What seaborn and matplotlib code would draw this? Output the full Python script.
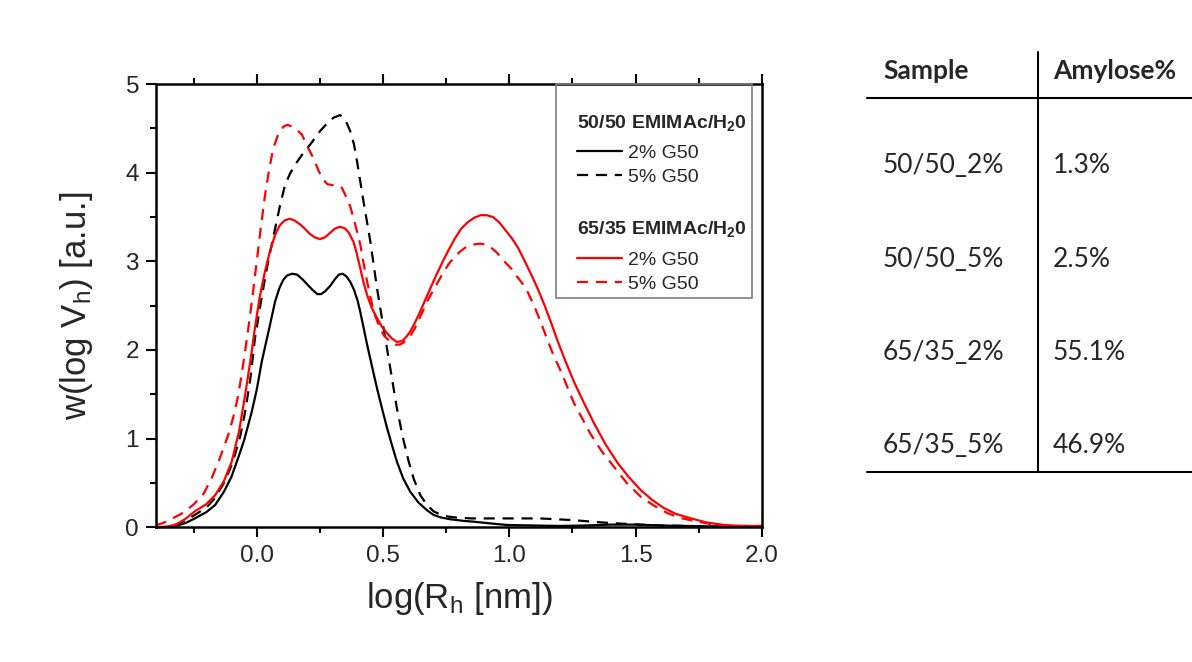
import matplotlib
matplotlib.use("Agg")
import matplotlib.pyplot as plt
import seaborn as sns
import pandas as pd
from matplotlib.lines import Line2D
from matplotlib.patches import Rectangle

# ---------------- data ----------------
# 50/50 EMIMAc/H2O, 2% G50 (black solid)
bs_x = [-0.40, -0.36, -0.32, -0.28, -0.245, -0.20, -0.165, -0.13, -0.10, -0.075, -0.05, -0.02, 0.0, 0.02,
        0.05, 0.073, 0.09, 0.105, 0.12, 0.14, 0.16, 0.18, 0.20, 0.22, 0.24, 0.255, 0.27, 0.29, 0.31, 0.325,
        0.34, 0.355, 0.37, 0.385, 0.40, 0.41, 0.437, 0.456, 0.476, 0.496, 0.516, 0.535, 0.555, 0.58, 0.608,
        0.64, 0.675, 0.70, 0.73, 0.767, 0.82, 0.86, 0.92, 0.99, 1.10, 1.20, 1.30, 1.40, 1.50, 1.60, 1.70,
        1.80, 1.90, 2.00]
bs_y = [0.0, 0.0, 0.015, 0.05, 0.10, 0.17, 0.25, 0.40, 0.57, 0.77, 0.98, 1.30, 1.55, 1.87,
        2.25, 2.55, 2.70, 2.79, 2.84, 2.86, 2.85, 2.80, 2.74, 2.68, 2.63, 2.63, 2.66, 2.72, 2.80, 2.85,
        2.86, 2.83, 2.77, 2.68, 2.55, 2.43, 2.06, 1.82, 1.57, 1.34, 1.12, 0.93, 0.74, 0.55, 0.40,
        0.28, 0.19, 0.14, 0.11, 0.09, 0.072, 0.063, 0.045, 0.026, 0.02, 0.015, 0.02, 0.03, 0.03, 0.02, 0.015,
        0.01, 0.01, 0.01]

# 50/50 EMIMAc/H2O, 5% G50 (black dashed)
bd_x = [-0.40, -0.36, -0.32, -0.28, -0.245, -0.20, -0.165, -0.13, -0.105, -0.086, -0.065, -0.046, -0.025,
        -0.007, 0.02, 0.04, 0.058, 0.073, 0.093, 0.112, 0.132, 0.152, 0.179, 0.215, 0.251, 0.28, 0.304,
        0.33, 0.35, 0.37, 0.385, 0.397, 0.41, 0.423, 0.45, 0.476, 0.502, 0.529, 0.555, 0.582, 0.60, 0.621,
        0.648, 0.675, 0.70, 0.73, 0.76, 0.79, 0.85, 0.99, 1.12, 1.19, 1.256, 1.32, 1.39, 1.45, 1.52, 1.60,
        1.70, 1.80, 1.90, 2.00]
bd_y = [0.0, 0.005, 0.03, 0.08, 0.14, 0.22, 0.33, 0.50, 0.66, 0.82, 1.03, 1.30, 1.68,
        2.13, 2.60, 2.92, 3.17, 3.37, 3.64, 3.86, 3.99, 4.09, 4.20, 4.33, 4.47, 4.56, 4.62,
        4.65, 4.60, 4.47, 4.32, 4.13, 3.90, 3.67, 3.22, 2.70, 2.25, 1.79, 1.34, 0.97, 0.76, 0.55,
        0.36, 0.25, 0.18, 0.14, 0.12, 0.11, 0.10, 0.10, 0.10, 0.09, 0.08, 0.065, 0.05, 0.04, 0.03, 0.02,
        0.015, 0.01, 0.01, 0.01]

# 65/35 EMIMAc/H2O, 2% G50 (red solid)
rs_x = [-0.40, -0.36, -0.32, -0.28, -0.245, -0.20, -0.165, -0.13, -0.099, -0.07, -0.046, -0.025, -0.007,
        0.012, 0.033, 0.053, 0.073, 0.09, 0.11, 0.13, 0.15, 0.17, 0.19, 0.21, 0.23, 0.25, 0.27, 0.29, 0.31,
        0.33, 0.35, 0.365, 0.383, 0.395, 0.41, 0.423, 0.437, 0.456, 0.476, 0.496, 0.516, 0.535, 0.555,
        0.575, 0.59, 0.608, 0.625, 0.645, 0.665, 0.688, 0.71, 0.735, 0.76, 0.785, 0.81, 0.835, 0.86,
        0.886, 0.91, 0.935, 0.96, 0.985, 1.01, 1.035, 1.058, 1.08, 1.10, 1.12, 1.14, 1.165, 1.19, 1.22,
        1.256, 1.296, 1.336, 1.38, 1.43, 1.475, 1.52, 1.565, 1.61, 1.66, 1.72, 1.78, 1.85, 1.92, 2.00]
rs_y = [0.0, 0.005, 0.03, 0.10, 0.18, 0.26, 0.36, 0.52, 0.74, 1.08, 1.49, 1.88, 2.25,
        2.60, 2.89, 3.12, 3.30, 3.40, 3.46, 3.48, 3.46, 3.42, 3.37, 3.31, 3.27, 3.25, 3.27, 3.32, 3.37,
        3.39, 3.37, 3.32, 3.22, 3.10, 2.92, 2.76, 2.62, 2.47, 2.36, 2.26, 2.19, 2.13, 2.09,
        2.10, 2.14, 2.21, 2.30, 2.42, 2.55, 2.70, 2.84, 2.99, 3.13, 3.26, 3.37, 3.44, 3.49,
        3.52, 3.52, 3.50, 3.44, 3.35, 3.26, 3.15, 3.02, 2.89, 2.77, 2.64, 2.50, 2.31, 2.11, 1.89,
        1.64, 1.40, 1.17, 0.94, 0.72, 0.56, 0.42, 0.31, 0.22, 0.15, 0.10, 0.055, 0.026, 0.015, 0.015]

# 65/35 EMIMAc/H2O, 5% G50 (red dashed)
rd_x = [-0.40, -0.37, -0.34, -0.30, -0.27, -0.245, -0.21, -0.179, -0.146, -0.113, -0.093, -0.073, -0.053,
        -0.033, -0.016, 0.0, 0.017, 0.033, 0.05, 0.066, 0.085, 0.106, 0.122, 0.139, 0.16, 0.179, 0.20,
        0.225, 0.245, 0.264, 0.28, 0.30, 0.317, 0.337, 0.357, 0.37, 0.383, 0.396, 0.41, 0.423, 0.437,
        0.45, 0.463, 0.482, 0.502, 0.525, 0.549, 0.565, 0.58, 0.595, 0.608, 0.625, 0.64, 0.658, 0.675,
        0.70, 0.72, 0.74, 0.76, 0.78, 0.805, 0.833, 0.86, 0.885, 0.905, 0.93, 0.95, 0.965, 0.99, 1.01,
        1.03, 1.065, 1.098, 1.125, 1.15, 1.175, 1.204, 1.23, 1.256, 1.29, 1.32, 1.365, 1.415, 1.465,
        1.52, 1.575, 1.627, 1.685, 1.746, 1.80, 1.865, 1.93, 2.00]
rd_y = [0.02, 0.05, 0.09, 0.15, 0.21, 0.27, 0.38, 0.55, 0.78, 1.04, 1.24, 1.49, 1.85,
        2.25, 2.62, 3.00, 3.40, 3.75, 4.05, 4.28, 4.43, 4.52, 4.54, 4.52, 4.48, 4.43, 4.30,
        4.16, 4.02, 3.92, 3.87, 3.86, 3.86, 3.83, 3.71, 3.62, 3.49, 3.35, 3.19, 2.98, 2.77,
        2.60, 2.43, 2.29, 2.17, 2.10, 2.06, 2.06, 2.08, 2.12, 2.16, 2.24, 2.33, 2.44, 2.55,
        2.68, 2.78, 2.88, 2.97, 3.04, 3.11, 3.17, 3.19, 3.20, 3.19, 3.15, 3.10, 3.05, 2.97, 2.91,
        2.83, 2.70, 2.50, 2.31, 2.12, 1.94, 1.76, 1.58, 1.40, 1.22, 1.06, 0.86, 0.68, 0.50,
        0.345, 0.24, 0.158, 0.10, 0.063, 0.035, 0.015, 0.015, 0.015]

x_ticks = [0.0, 0.5, 1.0, 1.5, 2.0]
x_ticklabels = ["0.0", "0.5", "1.0", "1.5", "2.0"]
x_minor = [-0.25, 0.25, 0.75, 1.25, 1.75]
y_ticks = [0, 1, 2, 3, 4, 5]
y_minor = [0.5, 1.5, 2.5, 3.5, 4.5]

group_titles = ["50/50 EMIMAc/H$_2$0", "65/35 EMIMAc/H$_2$0"]
entry_labels = ["2% G50", "5% G50"]

samples = ["50/50_2%", "50/50_5%", "65/35_2%", "65/35_5%"]
amylose = [1.3, 2.5, 55.1, 46.9]
table_headers = ["Sample", "Amylose%"]

# ---------------- style ----------------
sns.set_theme(style="ticks")
plt.rcParams["font.family"] = ["Liberation Sans", "DejaVu Sans"]
plt.rcParams["mathtext.default"] = "regular"
plt.rcParams["axes.linewidth"] = 1.8

RED = "#ff0000"
BLACK = "#000000"
DASH = (0, (5, 3.5))
LW = 1.6

fig = plt.figure(figsize=(11.92, 6.62), dpi=100)
fig.patch.set_facecolor("white")
ax = fig.add_axes([0.1306, 0.2035, 0.5086, 0.6696])
ax.set_facecolor("white")

series = [
    (bs_x, bs_y, BLACK, "-"),
    (bd_x, bd_y, BLACK, DASH),
    (rs_x, rs_y, RED, "-"),
    (rd_x, rd_y, RED, DASH),
]
for xs, ys, col, ls in series:
    df = pd.DataFrame({"x": xs, "y": ys})
    sns.lineplot(data=df, x="x", y="y", ax=ax, color=col, linewidth=LW,
                 sort=False, estimator=None, legend=False)
    ln = ax.lines[-1]
    ln.set_linestyle(ls)
    ln.set_solid_joinstyle("round")
    ln.set_dash_joinstyle("round")

ax.set_xlim(-0.4, 2.0)
ax.set_ylim(0, 5)
ax.set_xticks(x_ticks)
ax.set_xticklabels(x_ticklabels)
ax.set_xticks(x_minor, minor=True)
ax.set_yticks(y_ticks)
ax.set_yticks(y_minor, minor=True)
ax.tick_params(which="both", direction="out", top=True, right=False, labeltop=False,
               width=1.5, color="black")
ax.tick_params(which="major", length=7, labelsize=17.5)
ax.tick_params(which="minor", length=4)
ax.tick_params(axis="x", which="major", pad=6)
ax.tick_params(axis="y", which="major", pad=5)
for s in ax.spines.values():
    s.set_visible(True)
    s.set_color("black")
    s.set_linewidth(1.8)

ax.set_xlabel("log(R$_h$ [nm])", fontsize=25)
ax.set_ylabel("w(log V$_h$) [a.u.]", fontsize=25)
ax.xaxis.set_label_coords(0.5, -0.118)
ax.yaxis.set_label_coords(-0.10, 0.5)

# ---------------- legend ----------------
leg_kw = dict(loc="upper left", frameon=False, fontsize=14,
              title_fontproperties={"weight": "bold", "size": 14},
              alignment="left", borderpad=0, borderaxespad=0,
              handlelength=2.3, handletextpad=0.3, labelspacing=0.33)
h_black = [Line2D([], [], color=BLACK, lw=LW, ls="-"), Line2D([], [], color=BLACK, lw=LW, ls=DASH)]
h_red = [Line2D([], [], color=RED, lw=LW, ls="-"), Line2D([], [], color=RED, lw=LW, ls=DASH)]
leg1 = ax.legend(h_black, entry_labels, title=group_titles[0], bbox_to_anchor=(0.695, 0.935), **leg_kw)
leg1._legend_box.sep = 8.5
ax.add_artist(leg1)
leg2 = ax.legend(h_red, entry_labels, title=group_titles[1], bbox_to_anchor=(0.695, 0.695), **leg_kw)
leg2._legend_box.sep = 8.5
ax.add_patch(Rectangle((0.661, 0.517), 0.322, 0.483, transform=ax.transAxes, fill=False,
                       edgecolor="#7f7f7f", linewidth=1.2, clip_on=False, zorder=5))

# ---------------- table ----------------
W, H = 1192.0, 662.0
def fx(px):
    return px / W
def fy(py):
    return 1 - py / H

col_x = [883, 1053]
for cx, txt in zip(col_x, table_headers):
    fig.text(fx(cx), fy(79.3), txt, fontsize=19, fontweight="bold", family=["Lato", "DejaVu Sans"],
             va="baseline", ha="left")
row_base = [173.3, 266.7, 360.0, 453.3]
for yb, s, a in zip(row_base, samples, amylose):
    fig.text(fx(col_x[0]), fy(yb), s, fontsize=19, family=["Lato", "DejaVu Sans"], va="baseline", ha="left")
    fig.text(fx(col_x[1]), fy(yb), f"{a:.1f}%", fontsize=19, family=["Lato", "DejaVu Sans"],
             va="baseline", ha="left")
fig.add_artist(Line2D([fx(867), fx(1192)], [fy(97.7), fy(97.7)], transform=fig.transFigure, color="black", lw=1.5))
fig.add_artist(Line2D([fx(867), fx(1192)], [fy(472.3), fy(472.3)], transform=fig.transFigure, color="black", lw=1.5))
fig.add_artist(Line2D([fx(1037.7), fx(1037.7)], [fy(51.7), fy(472.3)], transform=fig.transFigure, color="black", lw=1.5))

fig.savefig("out.png", dpi=100, facecolor="white")
